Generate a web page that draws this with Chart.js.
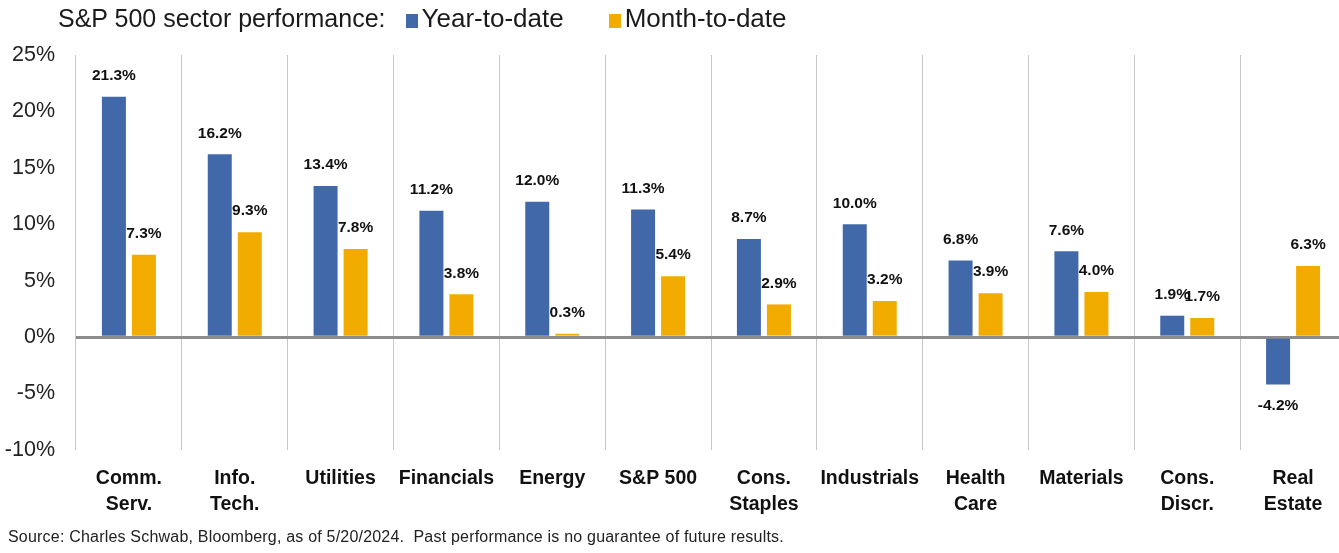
<!DOCTYPE html>
<html>
<head>
<meta charset="utf-8">
<script src="https://cdn.jsdelivr.net/npm/chart.js@4.4.1/dist/chart.umd.min.js"></script>
<style>
    body { margin: 0; background: #fff; font-family: "Liberation Sans", Arial, sans-serif; overflow: hidden; }
    #wrap { position: relative; width: 1339px; height: 553px; overflow: hidden; }
    #sectorChart { position: absolute; left: 0; top: 0; }
    #header { position: absolute; left: 58px; top: 3px; font-size: 25px; color: #1a1a1a; white-space: pre; }
    #header .box { display: inline-block; width: 12px; height: 14px; margin: 0 4px 0 0; vertical-align: -1px; }
    #header .item { margin-left: 20px; font-size: 26px; }
    #header .item + .item { margin-left: 45px; }
    #source { position: absolute; left: 8px; top: 528px; font-size: 16px; letter-spacing: 0.2px; color: #222; white-space: pre; }
</style>
</head>
<body>
<div id="wrap">
    <canvas id="sectorChart" width="1346" height="553"></canvas>
    <div id="header"></div>
    <div id="source">Source: Charles Schwab, Bloomberg, as of 5/20/2024.  Past performance is no guarantee of future results.</div>
</div>
<script>
const sectors = [
    ['Comm.', 'Serv.'], ['Info.', 'Tech.'], 'Utilities', 'Financials', 'Energy', 'S&P 500',
    ['Cons.', 'Staples'], 'Industrials', ['Health', 'Care'], 'Materials', ['Cons.', 'Discr.'], ['Real', 'Estate']
];
const yearToDate = [21.3, 16.2, 13.4, 11.2, 12.0, 11.3, 8.7, 10.0, 6.8, 7.6, 1.9, -4.2];
const monthToDate = [7.3, 9.3, 7.8, 3.8, 0.3, 5.4, 2.9, 3.2, 3.9, 4.0, 1.7, 6.3];
const seriesNames = ['Year-to-date', 'Month-to-date'];
const seriesColors = ['#4169A9', '#F2AC00'];

// title + legend line
var header = document.getElementById('header');
header.appendChild(document.createTextNode('S&P 500 sector performance:'));
seriesNames.forEach(function (name, i) {
    var item = document.createElement('span');
    item.className = 'item';
    item.innerHTML = '<span class="box" style="background:' + seriesColors[i] + '"></span>' + name;
    header.appendChild(item);
});

const barLabels = {
    id: 'barLabels',
    afterDatasetsDraw(chart) {
        const ctx = chart.ctx;
        ctx.save();
        ctx.font = 'bold 15.5px "Liberation Sans", Arial, sans-serif';
        ctx.fillStyle = '#111';
        ctx.textAlign = 'center';
        ctx.textBaseline = 'middle';
        chart.data.datasets.forEach(function (ds, i) {
            chart.getDatasetMeta(i).data.forEach(function (bar, j) {
                var v = ds.data[j];
                var y = v >= 0 ? bar.y - 21 : bar.y + 21;
                ctx.fillText(v.toFixed(1) + '%', bar.x, y);
            });
        });
        ctx.restore();
    }
};

const sectorChart = document.getElementById('sectorChart');
new Chart(sectorChart, {
    type: 'bar',
    data: {
        labels: sectors,
        datasets: [{
            label: seriesNames[0],
            data: yearToDate,
            backgroundColor: seriesColors[0],
            categoryPercentage: 0.567,
            barPercentage: 0.8
        }, {
            label: seriesNames[1],
            data: monthToDate,
            backgroundColor: seriesColors[1],
            categoryPercentage: 0.567,
            barPercentage: 0.8
        }]
    },
    options: {
        responsive: false,
        animation: false,
        layout: { padding: { top: 55, bottom: 23, left: 0, right: 0 } },
        plugins: {
            legend: { display: false },
            tooltip: { enabled: false }
        },
        scales: {
            x: {
                border: { display: false },
                grid: {
                    offset: true,
                    drawTicks: false,
                    color: '#c8c8c8',
                    lineWidth: 1
                },
                ticks: {
                    padding: 16,
                    color: '#111',
                    font: { family: '"Liberation Sans", Arial, sans-serif', size: 19.5, weight: 'bold', lineHeight: 1.32 }
                },
                afterFit: function (s) { s.height = 80; }
            },
            y: {
                min: -10,
                max: 25,
                border: { display: false },
                grid: {
                    drawTicks: false,
                    color: function (c) { return c.tick && c.tick.value === 0 ? '#8c8c8c' : 'rgba(0,0,0,0)'; },
                    lineWidth: function (c) { return c.tick && c.tick.value === 0 ? 3 : 0; }
                },
                ticks: {
                    stepSize: 5,
                    padding: 21,
                    color: '#222',
                    font: { family: '"Liberation Sans", Arial, sans-serif', size: 21.5 },
                    callback: function (v) { return v + '%'; }
                },
                afterFit: function (s) { s.width = 76; }
            }
        }
    },
    plugins: [barLabels]
});
</script>
</body>
</html>
